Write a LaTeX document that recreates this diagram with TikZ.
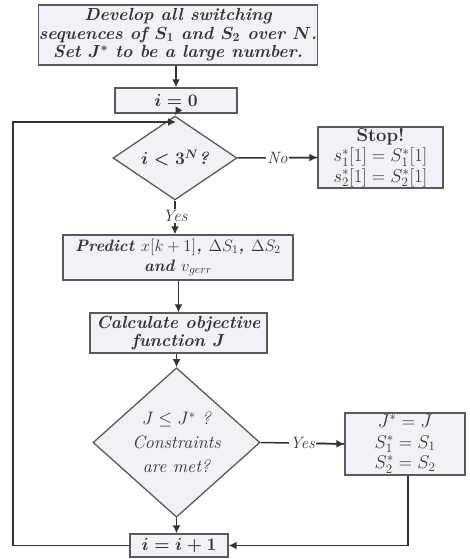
\RequirePackage{fix-cm}
\documentclass[tikz,border=0pt]{standalone}
\usetikzlibrary{shapes.geometric,arrows.meta}
\definecolor{boxfill}{HTML}{F1F1F7}
\definecolor{boxline}{HTML}{5A5A5A}
\definecolor{lineclr}{HTML}{333333}
\tikzset{
  txt/.style={font=\fontsize{17.5}{18.5}\selectfont\bfseries\itshape\boldmath, text=black!80, align=center},
  pbox/.style={txt, draw=boxline, line width=1.3pt, fill=boxfill, inner sep=0pt},
  dbox/.style={txt, draw=boxline, line width=1.3pt, fill=boxfill, diamond, inner sep=0pt},
  conn/.style={draw=lineclr, line width=1.5pt, -{Latex[length=8pt,width=8pt]}},
  plain/.style={draw=lineclr, line width=1.5pt},
  lbl/.style={txt, fill=white, inner sep=1pt, font=\fontsize{16.5}{17}\selectfont\itshape}
}
\begin{document}
\begin{tikzpicture}[x=1pt,y=-1pt]
\useasboundingbox (0,0) rectangle (470,559);
\node[pbox, minimum width=279pt, minimum height=60pt] (top) at (178,35)
  {Develop all switching\\ sequences of $S_1$ and $S_2$ over $N$.\\ Set $J^{*}$ to be a large number.};
\node[pbox, minimum width=122pt, minimum height=25pt] (i0) at (176,100.5) {$i=0$};
\node[dbox, minimum width=124pt, minimum height=43pt] (d1) at (175,158) {$i<3^{N}$?};
\node[pbox, font=\fontsize{18.5}{20.5}\selectfont, minimum width=125pt, minimum height=61pt] (stop) at (380.5,157.5)
  {\textbf{Stop!}\\ $s_1^{*}[1]=S_1^{*}[1]$\\ $s_2^{*}[1]=S_2^{*}[1]$};
\node[pbox, font=\fontsize{16.5}{20}\selectfont\bfseries\itshape\unboldmath, minimum width=230pt, minimum height=45pt] (pred) at (178,257.5)
  {Predict $x[k+1]$, $\Delta S_1$, $\Delta S_2$\\ and $v_{gerr}$};
\node[pbox, minimum width=177pt, minimum height=40pt] (calc) at (178.5,333)
  {Calculate objective\\ function $J$};
\node[dbox, font=\fontsize{18}{24}\selectfont\itshape, minimum width=167pt, minimum height=119pt] (d2) at (176.5,442.5)
  {$J\le J^{*}$ ?\\ Constraints\\ are met?};
\node[pbox, font=\fontsize{18.5}{20.5}\selectfont\itshape, minimum width=120pt, minimum height=62pt] (jb) at (405,444)
  {$J^{*}=J$\\ $S_1^{*}=S_1$\\ $S_2^{*}=S_2$};
\node[pbox, minimum width=98pt, minimum height=23pt] (inc) at (179,545.5) {$i=i+1$};
\coordinate (loopBL) at (13,545.5);
\coordinate (loopTL) at (13,122);
\coordinate (loopT) at (176,122);
\coordinate (jbdown) at (408,545.5);
\draw[conn] (top.south -| i0) -- (i0.north);
\draw[conn] (i0.south) -- (d1.north);
\draw[plain] (d1.east) -- node[lbl] (no) {No} (stop.west);
\draw[conn] (no.east) -- (stop.west);
\draw[conn] (d1.south) -- node[lbl, pos=0.45] (yes1) {Yes} (pred.north -| d1.south);
\draw[conn] (pred.south -| calc.north) -- (calc.north);
\draw[conn] (calc.south -| d2.north) -- (d2.north);
\draw[plain] (d2.east) -- node[lbl] (yes2) {Yes} (jb.west);
\draw[conn] (yes2.east) -- (jb.west);
\draw[conn] (d2.south) -- (inc.north -| d2.south);
\draw[conn] (jb.south -| jbdown) -- (jbdown) -- (inc.east);
\draw[conn] (inc.west) -- (loopBL) -- (loopTL) -- (loopT);
\end{tikzpicture}
\end{document}
